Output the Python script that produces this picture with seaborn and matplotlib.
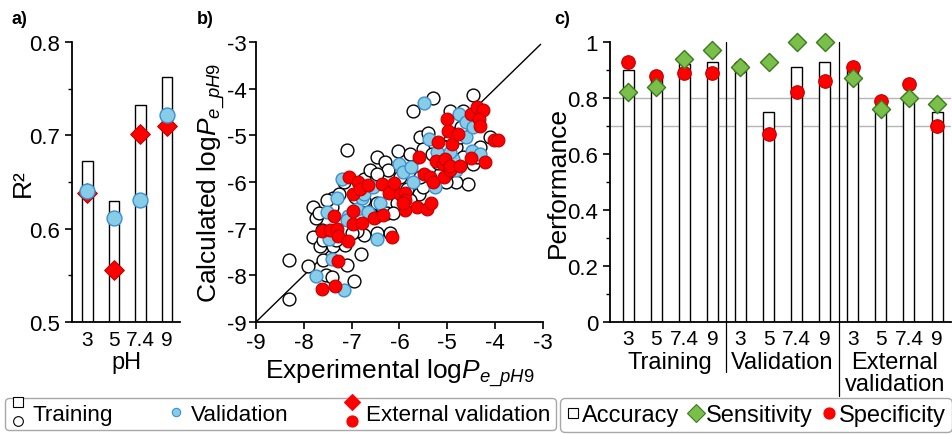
import numpy as np
import pandas as pd
import matplotlib
matplotlib.use('Agg')
import matplotlib.pyplot as plt
import seaborn as sns
from matplotlib.lines import Line2D
from matplotlib.legend_handler import HandlerBase

# ---- data ----
ph_labels = ['3', '5', '7.4', '9']

# panel a: R2 per pH
r2_train = [0.672, 0.630, 0.732, 0.762]
r2_valid = [0.640, 0.611, 0.631, 0.722]
r2_ext = [0.638, 0.556, 0.701, 0.710]

# panel b: experimental vs calculated logP at pH 9
train_exp = [-8.30, -8.30, -7.92, -7.81, -7.74, -7.80, -7.67, -7.59, -7.53, -7.41,
             -7.10, -6.95, -6.81, -7.10, -6.75, -6.61, -6.48, -6.30, -6.04, -5.71,
             -5.29, -4.95, -4.46, -4.56, -4.81, -4.11, -5.57, -5.41, -5.60, -5.78,
             -6.05, -6.20, -6.48, -6.75, -6.89, -7.24, -7.21, -7.38, -7.41, -6.93,
             -6.75, -6.61, -6.51, -6.27, -5.85, -5.78, -5.50, -5.33, -5.09, -5.02,
             -4.81, -4.67, -4.46, -4.39, -4.32, -4.74, -4.67, -4.71, -5.50, -5.02,
             -5.16, -5.57, -7.17, -7.27, -7.52, -7.69, -7.62, -7.59, -7.38, -7.14,
             -7.00, -6.82, -6.48, -6.13, -6.23, -6.48, -5.99, -7.45, -7.33, -5.20]
train_calc = [-8.50, -7.68, -7.79, -6.53, -6.78, -7.17, -7.38, -7.67, -7.99, -8.04,
              -7.77, -8.13, -7.54, -5.31, -5.93, -5.75, -5.47, -5.57, -5.33, -4.48,
              -4.19, -4.48, -4.14, -6.04, -6.00, -5.04, -5.04, -4.94, -6.25, -6.39,
              -6.46, -7.10, -7.10, -7.13, -7.06, -7.28, -7.03, -6.35, -6.53, -6.32,
              -6.39, -6.64, -6.75, -6.67, -6.14, -5.40, -5.29, -5.40, -5.22, -5.26,
              -5.26, -5.47, -5.61, -5.47, -5.26, -5.04, -4.48, -4.83, -6.11, -6.00,
              -5.82, -5.89, -6.00, -6.25, -6.39, -6.67, -7.03, -7.24, -7.38, -7.35,
              -7.10, -6.74, -6.46, -6.67, -5.75, -5.82, -5.89, -7.20, -7.25, -5.60]
valid_exp = [-7.74, -7.17, -7.41, -7.48, -7.52, -7.31, -7.21, -6.46, -7.07, -7.10,
             -6.89, -6.79, -6.75, -6.65, -6.55, -6.41, -6.02, -5.92, -5.75, -5.71,
             -5.48, -5.38, -5.22, -5.26, -4.88, -4.81, -4.95, -4.75, -4.60, -4.60,
             -4.49, -4.32, -4.46]
valid_calc = [-8.02, -8.32, -7.65, -7.23, -6.64, -6.35, -5.93, -7.23, -6.73, -6.82,
              -6.57, -6.35, -6.25, -6.64, -6.11, -6.46, -5.61, -5.79, -5.68, -6.00,
              -4.30, -5.08, -5.36, -6.11, -5.50, -5.75, -5.36, -4.55, -4.72, -5.04,
              -5.33, -5.40, -4.83]
ext_exp = [-7.61, -7.34, -7.29, -7.61, -7.45, -7.31, -7.28, -7.36, -7.07, -6.98,
           -6.98, -6.79, -6.98, -7.05, -6.86, -6.82, -6.65, -6.53, -6.35, -6.37,
           -6.21, -6.11, -6.16, -5.99, -5.88, -5.88, -5.88, -5.93, -5.64, -5.42,
           -5.35, -5.59, -5.48, -5.36, -5.29, -5.20, -5.24, -5.09, -5.05, -5.07,
           -4.95, -4.94, -5.00, -4.98, -4.91, -4.77, -4.74, -4.51, -4.51, -4.38,
           -4.26, -4.34, -4.32, -4.22, -4.03, -3.94]
ext_calc = [-8.30, -8.22, -7.70, -7.04, -7.03, -7.01, -7.15, -6.73, -7.26, -6.62,
            -6.90, -6.87, -6.25, -5.89, -6.00, -6.14, -6.07, -6.78, -6.71, -6.04,
            -6.23, -6.02, -7.18, -6.26, -6.23, -6.39, -6.59, -6.46, -6.53, -6.58,
            -6.45, -5.47, -5.82, -5.89, -6.00, -5.15, -5.54, -5.61, -5.50, -5.89,
            -5.75, -5.66, -4.65, -4.91, -5.18, -4.97, -5.66, -5.49, -4.55, -4.39,
            -4.46, -4.66, -4.79, -5.57, -5.11, -5.10]
diag = [-9, -3.05]

# panel c: classification performance
groups = ['Training', 'Validation', 'External\nvalidation']
accuracy = [0.90, 0.87, 0.92, 0.93, 0.91, 0.75, 0.91, 0.93, 0.90, 0.76, 0.80, 0.75]
sensitivity = [0.82, 0.84, 0.94, 0.97, 0.91, 0.93, 1.00, 1.00, 0.87, 0.76, 0.80, 0.78]
specificity = [0.93, 0.88, 0.89, 0.89, 0.91, 0.67, 0.82, 0.86, 0.91, 0.79, 0.85, 0.70]
thresholds = [0.8, 0.7]

# ---- style ----
sns.set_style('ticks')
plt.rcParams['font.family'] = ['Liberation Sans', 'DejaVu Sans']
plt.rcParams['mathtext.fontset'] = 'custom'
plt.rcParams['mathtext.rm'] = 'Liberation Sans'
plt.rcParams['mathtext.it'] = 'Liberation Sans:italic'
plt.rcParams['axes.linewidth'] = 1.3
plt.rcParams['axes.edgecolor'] = 'black'
plt.rcParams['text.color'] = 'black'
plt.rcParams['axes.labelcolor'] = 'black'
plt.rcParams['xtick.color'] = 'black'
plt.rcParams['ytick.color'] = 'black'
plt.rcParams['xtick.major.width'] = 1.2
plt.rcParams['ytick.major.width'] = 1.2
plt.rcParams['ytick.minor.width'] = 1.0

BLUE, BLUE_E = '#87cde8', '#3d8fd1'
RED, RED_E = '#ff0000', '#c00000'
GREEN, GREEN_E = '#79bf4a', '#3c7a20'

fig = plt.figure(figsize=(9.53, 4.35), dpi=100)
ax_a = fig.add_axes([0.0755, 0.2575, 0.1135, 0.6437])
ax_b = fig.add_axes([0.2686, 0.2575, 0.3012, 0.6437])
ax_c = fig.add_axes([0.640, 0.2575, 0.358, 0.6437])

# ---- panel a ----
pos_a = np.arange(len(ph_labels))
sns.barplot(x=pos_a, y=r2_train, ax=ax_a, color='white', edgecolor='black',
            linewidth=1, width=0.4, zorder=2)
sns.scatterplot(x=pos_a, y=r2_ext, ax=ax_a, marker='D', s=100, color=RED,
                edgecolor=RED_E, linewidth=0.8, zorder=3)
sns.scatterplot(x=pos_a, y=r2_valid, ax=ax_a, marker='o', s=115, color=BLUE,
                edgecolor=BLUE_E, linewidth=1, zorder=4)
ax_a.set_xlim(-0.58, 3.5)
ax_a.set_ylim(0.5, 0.8)
ax_a.set_yticks([0.5, 0.6, 0.7, 0.8])
ax_a.set_yticklabels(['0.5', '0.6', '0.7', '0.8'])
ax_a.set_yticks([0.55, 0.65, 0.75], minor=True)
ax_a.set_xticks(pos_a)
ax_a.set_xticklabels(ph_labels)
ax_a.tick_params(axis='x', length=0, labelsize=15, pad=6)
ax_a.tick_params(axis='y', which='major', length=5, labelsize=16)
ax_a.tick_params(axis='y', which='minor', length=3)
ax_a.set_xlabel('pH', fontsize=17, labelpad=1)
ax_a.set_ylabel('R²', fontsize=19, labelpad=-4)
sns.despine(ax=ax_a)

# ---- panel b ----
ax_b.plot(diag, diag, color='black', lw=1, zorder=1)
sns.scatterplot(x=train_exp, y=train_calc, ax=ax_b, marker='o', s=85,
                facecolor='white', edgecolor='black', linewidth=1, zorder=2)
sns.scatterplot(x=valid_exp, y=valid_calc, ax=ax_b, marker='o', s=85,
                color=BLUE, edgecolor=BLUE_E, linewidth=1, zorder=3)
sns.scatterplot(x=ext_exp, y=ext_calc, ax=ax_b, marker='o', s=85,
                color=RED, edgecolor=RED_E, linewidth=0.8, zorder=4)
ax_b.set_xlim(-9, -3)
ax_b.set_ylim(-9, -3)
ax_b.set_xticks(range(-9, -2))
ax_b.set_yticks(range(-9, -2))
ax_b.set_xticklabels([str(v) for v in range(-9, -2)])
ax_b.set_yticklabels([str(v) for v in range(-9, -2)])
ax_b.tick_params(length=5, labelsize=16, pad=2)
ax_b.set_xlabel(r'Experimental log$\mathit{P}_{\mathit{e\_pH9}}$', fontsize=19, labelpad=3)
ax_b.set_ylabel(r'Calculated log$\mathit{P}_{\mathit{e\_pH9}}$', fontsize=19, labelpad=-1)
sns.despine(ax=ax_b)

# ---- panel c ----
pos_c = np.arange(len(accuracy))
for t in thresholds:
    ax_c.axhline(t, color='#b5b5b5', lw=1, zorder=0)
sns.barplot(x=pos_c, y=accuracy, ax=ax_c, color='white', edgecolor='black',
            linewidth=1, width=0.39, zorder=2)
sns.scatterplot(x=pos_c, y=specificity, ax=ax_c, marker='o', s=95, color=RED,
                edgecolor=RED_E, linewidth=0.8, zorder=3, clip_on=False)
sns.scatterplot(x=pos_c, y=sensitivity, ax=ax_c, marker='D', s=85, color=GREEN,
                edgecolor=GREEN_E, linewidth=1, zorder=4, clip_on=False)
ax_c.set_xlim(-0.65, 11.5)
ax_c.set_ylim(0, 1)
ax_c.set_yticks([0, 0.2, 0.4, 0.6, 0.8, 1.0])
ax_c.set_yticklabels(['0', '0.2', '0.4', '0.6', '0.8', '1'])
ax_c.set_yticks([0.1, 0.3, 0.5, 0.7, 0.9], minor=True)
ax_c.set_xticks(pos_c)
ax_c.set_xticklabels(ph_labels * 3)
ax_c.tick_params(axis='x', length=0, labelsize=15, pad=5)
ax_c.tick_params(axis='y', which='major', length=5, labelsize=16)
ax_c.tick_params(axis='y', which='minor', length=3)
ax_c.set_ylabel('Performance', fontsize=19, labelpad=-2)
sns.despine(ax=ax_c)
for xs, yb in ((3.5, -0.18), (7.5, -0.265)):
    ax_c.axvline(xs, ymin=yb, ymax=1, color='black', lw=0.9, clip_on=False)
group_x = [1.5, 5.5, 9.5]
for gx, g in zip(group_x, groups):
    ax_c.text(gx, -0.105, g, ha='center', va='top', fontsize=17,
              linespacing=0.95, transform=ax_c.get_xaxis_transform())

# panel letters
for x, txt in ((0.012, 'a)'), (0.207, 'b)'), (0.582, 'c)')):
    fig.text(x, 0.955, txt, fontsize=13, fontweight='bold', va='center')


# ---- legends with stacked markers ----
class Stacked:
    def __init__(self, top, bottom):
        self.top = top
        self.bottom = bottom


class HandlerStacked(HandlerBase):
    def create_artists(self, legend, orig, xd, yd, width, height, fontsize, trans):
        cx = width / 2 - xd
        arts = []
        for h, fy in ((orig.top, 1.1), (orig.bottom, -0.1)):
            ln = Line2D([cx], [fy * height - yd], linestyle='none')
            ln.update_from(h)
            ln.set_transform(trans)
            arts.append(ln)
        return arts


def mk(marker, ms, fc, ec, mew=0.8):
    return Line2D([], [], linestyle='none', marker=marker, markersize=ms,
                  markerfacecolor=fc, markeredgecolor=ec, markeredgewidth=mew)


handles_a = [Stacked(mk('s', 7, 'white', 'black'), mk('o', 7, 'white', 'black')),
             mk('o', 6, BLUE, BLUE_E),
             Stacked(mk('D', 8, RED, RED), mk('o', 8, RED, RED))]
leg_a = fig.legend(handles_a, ['Training', 'Validation', 'External validation'],
                   handler_map={Stacked: HandlerStacked()}, loc='upper left',
                   bbox_to_anchor=(0.005, 0.083), borderaxespad=0, ncol=3,
                   fontsize=16.2, handlelength=0.7, handletextpad=0.3,
                   columnspacing=2.45, borderpad=0.25, fancybox=True,
                   edgecolor='#a8a8a8', framealpha=1)
leg_a.get_frame().set_linewidth(1)

handles_c = [mk('s', 7, 'white', 'black'), mk('D', 9, GREEN, GREEN_E),
             mk('o', 8, RED, RED)]
leg_c = fig.legend(handles_c, ['Accuracy', 'Sensitivity', 'Specificity'],
                   loc='upper left', bbox_to_anchor=(0.5876, 0.083),
                   borderaxespad=0, ncol=3, fontsize=17, handlelength=0.6,
                   handletextpad=0.1, columnspacing=0.4, borderpad=0.25,
                   fancybox=True, edgecolor='#a8a8a8', framealpha=1)
leg_c.get_frame().set_linewidth(1)

fig.savefig('out.png', dpi=100)
